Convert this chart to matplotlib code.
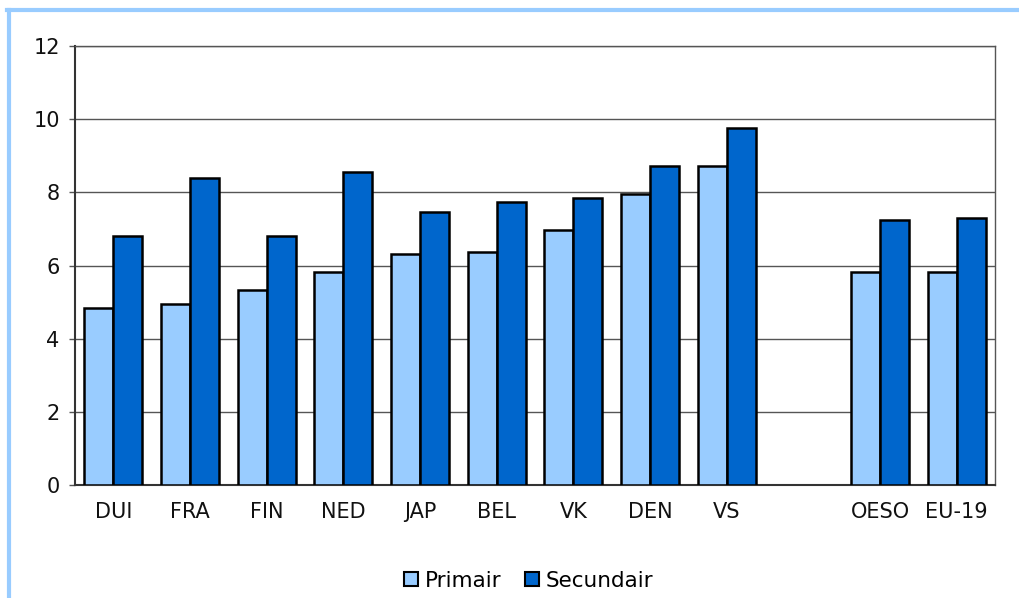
import numpy as np
import matplotlib
matplotlib.use("Agg")
import matplotlib.pyplot as plt
from matplotlib.lines import Line2D

# Data
categories = ["DUI", "FRA", "FIN", "NED", "JAP", "BEL", "VK", "DEN", "VS", "", "OESO", "EU-19"]
primair = [4.84, 4.95, 5.33, 5.82, 6.31, 6.37, 6.97, 7.95, 8.72, np.nan, 5.82, 5.82]
secundair = [6.81, 8.39, 6.81, 8.56, 7.46, 7.74, 7.85, 8.72, 9.76, np.nan, 7.24, 7.30]

col_prim = "#99ccff"
col_sec = "#0066cc"
grid_col = "#555555"

plt.rcParams["font.family"] = "DejaVu Sans"

fig = plt.figure(figsize=(10.2, 5.98), dpi=100)
ax = fig.add_axes([75 / 1020, 1 - 485 / 598, 920 / 1020, 439 / 598])

x = np.arange(len(categories))
w = 0.38
ax.bar(x - w / 2, primair, w, color=col_prim, edgecolor="black", linewidth=1.8, label="Primair", zorder=3)
ax.bar(x + w / 2, secundair, w, color=col_sec, edgecolor="black", linewidth=1.8, label="Secundair", zorder=3)

ax.set_xlim(-0.5, len(categories) - 0.5)
ax.set_ylim(0, 12)
ax.set_yticks(range(0, 13, 2))
ax.set_xticks(x)
ax.set_xticklabels(categories)
ax.tick_params(axis="x", length=0, pad=12, labelsize=15, colors="#111111")
ax.tick_params(axis="y", length=4, width=1, color=grid_col, pad=7, labelsize=15, labelcolor="#111111")
ax.yaxis.grid(True, color=grid_col, linewidth=1, zorder=0)
for s in ax.spines.values():
    s.set_color(grid_col)
    s.set_linewidth(1)
ax.spines["left"].set_color("#333333")
ax.spines["left"].set_linewidth(1.5)
ax.spines["bottom"].set_color("#333333")
ax.spines["bottom"].set_linewidth(1.5)

# legend at bottom
handles = [
    Line2D([], [], marker="s", linestyle="none", markersize=10, markerfacecolor=col_prim,
           markeredgecolor="black", markeredgewidth=1.5),
    Line2D([], [], marker="s", linestyle="none", markersize=10, markerfacecolor=col_sec,
           markeredgecolor="black", markeredgewidth=1.5),
]
fig.legend(handles, ["Primair", "Secundair"], loc="center", bbox_to_anchor=(528 / 1020, 1 - 581 / 598),
           ncol=2, frameon=False, fontsize=15.5, handletextpad=0.25, columnspacing=1.0, handlelength=0.8)

# light blue frame on top and left
fig.add_artist(Line2D([9 / 1020, 9 / 1020], [0, 1 - 10 / 598], transform=fig.transFigure,
                      color=col_prim, linewidth=3))
fig.add_artist(Line2D([7 / 1020, 1], [1 - 10 / 598, 1 - 10 / 598], transform=fig.transFigure,
                      color=col_prim, linewidth=3))

fig.savefig("out.png", dpi=100)
